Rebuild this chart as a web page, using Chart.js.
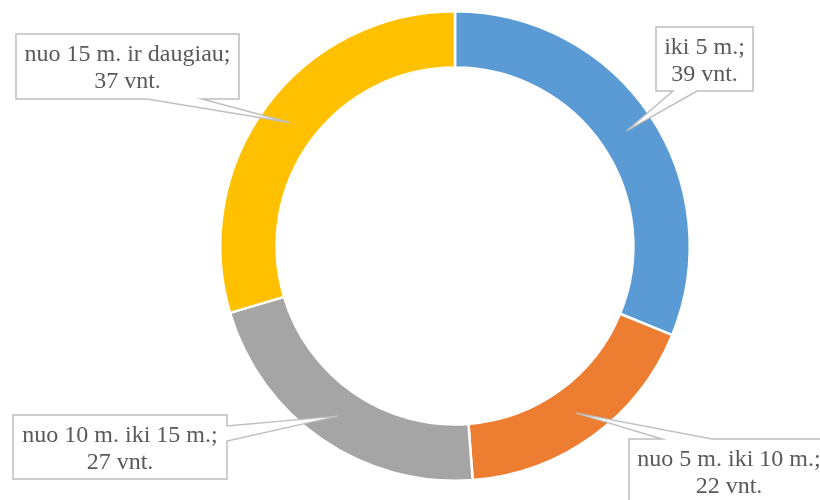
<!DOCTYPE html>
<html>
<head>
<meta charset="utf-8">
<script src="https://cdn.jsdelivr.net/npm/chart.js@4.4.1/dist/chart.umd.min.js"></script>
<style>
    html, body { margin: 0; padding: 0; background: #fff; }
    #wrap { width: 820px; height: 500px; }
</style>
</head>
<body>
<div id="wrap"><canvas id="ringChart" width="820" height="500"></canvas></div>
<script>
// Data
const categories = ['iki 5 m.', 'nuo 5 m. iki 10 m.', 'nuo 10 m. iki 15 m.', 'nuo 15 m. ir daugiau'];
const counts = [39, 22, 27, 37];
const unitLabel = 'vnt.';
const sliceColors = ['#5B9BD5', '#ED7D31', '#A5A5A5', '#FFC000'];

// Callout boxes (layout only)
const callouts = [
    { x: 656, y: 27,  w: 97,  h: 64, side: 'bottom', base: [673, 697] },
    { x: 629, y: 439, w: 200, h: 66, side: 'top',    base: [662, 712] },
    { x: 13,  y: 415, w: 214, h: 64, side: 'right',  base: [426, 441] },
    { x: 16,  y: 34,  w: 223, h: 65, side: 'bottom', base: [147, 202] }
];

const calloutPlugin = {
    id: 'callouts',
    afterDraw(chart) {
        const ctx = chart.ctx;
        const arcs = chart.getDatasetMeta(0).data;
        ctx.save();
        arcs.forEach((arc, i) => {
            const p = arc.getProps(['x', 'y', 'startAngle', 'endAngle', 'innerRadius', 'outerRadius'], true);
            const mid = (p.startAngle + p.endAngle) / 2;
            const r = (p.innerRadius + p.outerRadius) / 2;
            const tx = p.x + Math.cos(mid) * r;
            const ty = p.y + Math.sin(mid) * r;
            const b = callouts[i];
            const L = b.x, T = b.y, R = b.x + b.w, B = b.y + b.h;

            ctx.beginPath();
            ctx.moveTo(L, T);
            if (b.side === 'top') {
                ctx.lineTo(b.base[0], T); ctx.lineTo(tx, ty); ctx.lineTo(b.base[1], T);
            }
            ctx.lineTo(R, T);
            if (b.side === 'right') {
                ctx.lineTo(R, b.base[0]); ctx.lineTo(tx, ty); ctx.lineTo(R, b.base[1]);
            }
            ctx.lineTo(R, B);
            if (b.side === 'bottom') {
                ctx.lineTo(b.base[1], B); ctx.lineTo(tx, ty); ctx.lineTo(b.base[0], B);
            }
            ctx.lineTo(L, B);
            ctx.closePath();
            ctx.fillStyle = '#ffffff';
            ctx.fill();
            ctx.strokeStyle = '#BFBFBF';
            ctx.lineWidth = 1.5;
            ctx.stroke();

            ctx.fillStyle = '#595959';
            ctx.font = '24px "Liberation Serif", "Times New Roman", serif';
            ctx.textAlign = 'center';
            ctx.textBaseline = 'middle';
            const cx = L + b.w / 2;
            ctx.fillText(categories[i] + ';', cx, T + 21);
            ctx.fillText(counts[i] + ' ' + unitLabel, cx, T + 48);
        });
        ctx.restore();
    }
};

const ringCtx = document.getElementById('ringChart').getContext('2d');
const ringChart = new Chart(ringCtx, {
    type: 'doughnut',
    data: {
        labels: categories,
        datasets: [{
            data: counts,
            backgroundColor: sliceColors,
            borderColor: '#ffffff',
            borderWidth: 2.5,
            hoverOffset: 0,
            offset: 0
        }]
    },
    options: {
        responsive: false,
        animation: false,
        cutout: '76%',
        layout: { padding: { top: 10, bottom: 18, left: 219, right: 129 } },
        plugins: {
            legend: { display: false },
            tooltip: { enabled: false }
        }
    },
    plugins: [calloutPlugin]
});
</script>
</body>
</html>
